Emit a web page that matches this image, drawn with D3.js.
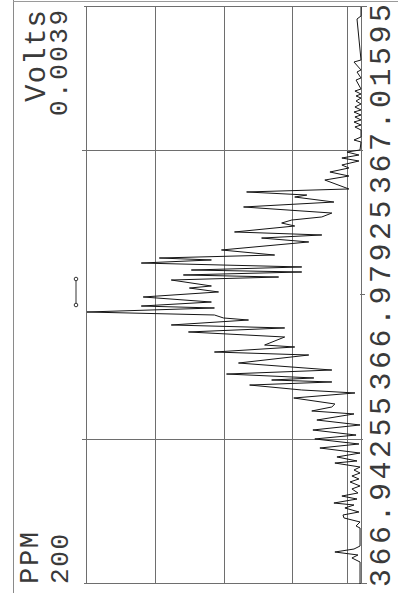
<!DOCTYPE html>
<html>
<head>
<meta charset="utf-8">
<script src="https://cdn.jsdelivr.net/npm/d3@7"></script>
<style>
html,body{margin:0;padding:0;background:#fff;}
svg{display:block;}
</style>
</head>
<body>
<svg id="chart" width="398" height="593"></svg>
<script>
// ---- data ----
const wavelengths = [
366.94255,366.94535,366.94586,366.94624,366.94662,366.94700,366.94738,366.94967,366.94993,366.95044,
366.95095,366.95133,366.95171,366.95222,366.95260,366.95285,366.95336,366.95374,366.95413,366.95464,
366.95502,366.95553,366.95591,366.95629,366.95667,366.95705,366.95743,366.95794,366.95820,366.95871,
366.95921,366.95985,366.96036,366.96100,366.96150,366.96214,366.96278,366.96341,366.96418,366.96456,
366.96507,366.96545,366.96621,366.96685,366.96723,366.96786,366.96825,366.96850,366.96876,366.96926,
366.96977,366.97066,366.97168,366.97206,366.97270,366.97295,366.97397,366.97461,366.97512,366.97550,
366.97613,366.97639,366.97677,366.97715,366.97766,366.97791,366.97842,366.97906,366.97970,366.98020,
366.98046,366.98122,366.98160,366.98186,366.98224,366.98249,366.98288,366.98338,366.98377,366.98402,
366.98440,366.98504,366.98606,366.98656,366.98695,366.98733,366.98809,366.98847,366.98885,366.98924,
366.98974,366.99051,366.99114,366.99178,366.99203,366.99242,366.99280,366.99394,366.99445,366.99496,
366.99547,366.99585,366.99636,366.99674,366.99712,366.99750,366.99776,366.99878,366.99903,366.99941,
367.00030,367.00069,367.00094,367.00132,367.00158,367.00196,367.00221,367.00259,367.00285,367.00323,
367.00361,367.00399,367.00437,367.00463,367.00488,367.00526,367.00552,367.00666,367.00692,367.00768,
367.00794,367.00895,367.00921,367.01442,367.01481,367.01595
];
const ppmValues = [
0.7,0.7,6.6,2.2,19.0,5.1,0.7,0.7,3.6,0.7,
12.4,13.1,1.5,11.7,5.1,19.7,2.9,13.9,2.2,6.6,
0.7,8.0,1.5,6.6,0.7,5.1,0.7,19.0,2.9,17.5,
0.7,29.9,1.5,33.6,3.6,35.0,0.7,32.1,5.1,35.8,
21.2,19.0,48.9,4.4,43.1,81.0,21.2,65.0,34.3,97.8,
21.2,89.1,38.0,106.6,48.2,70.1,55.5,125.5,55.5,138.0,
81.8,100.0,106.6,199.3,106.6,159.8,108.8,158.4,103.6,124.8,
108.8,138.0,59.9,129.2,43.1,123.4,43.1,159.8,108.8,146.7,
62.8,101.5,38.0,72.3,28.5,92.0,48.2,57.7,50.4,28.5,
21.2,85.4,19.7,48.2,39.4,83.2,8.8,26.3,8.8,22.6,
8.8,13.9,1.5,13.9,1.5,10.2,0.7,0,5.1,0,
0,4.4,0,5.1,0,4.4,0,5.1,0,4.4,
0,3.6,0,3.6,0,4.4,0,3.6,0,2.9,
0,5.1,0,2.9,0,0
];
const xTickValues = [366.94255, 366.97925, 367.01595];
const xTickLabels = ["366.94255", "366.97925", "367.01595"];
const xGridValues = [366.96090, 366.99760];
const yDomain = [0, 200];
const yGridValues = [50, 100, 150];
const thresholdPPM = 10;
const markerRange = [366.97804, 366.98135];
const unitTop = ["Volts", "0.0039"];
const unitLeft = ["PPM", "200"];

// ---- drawing (landscape chart rotated -90deg onto the portrait page) ----
const W = 593, H = 398;
const svg = d3.select("#chart");
const g = svg.append("g").attr("transform", `translate(0,${W}) rotate(-90)`);

const x = d3.scaleLinear().domain([xTickValues[0], xTickValues[2]]).range([9, 586]);
const y = d3.scaleLinear().domain(yDomain).range([361, 86]);

const gridColor = "#6e6e6e";
const textColor = "#3a3a3a";
const font = "'Liberation Mono', 'DejaVu Sans Mono', monospace";

// outer frame
g.append("line").attr("x1", 0).attr("x2", W).attr("y1", 13.5).attr("y2", 13.5)
  .attr("stroke", "#8a8a8a").attr("stroke-width", 1);
g.append("line").attr("x1", W - 1.5).attr("x2", W - 1.5).attr("y1", 13).attr("y2", H)
  .attr("stroke", "#9a9a9a").attr("stroke-width", 1);

// horizontal grid (value levels)
const yLines = [yDomain[1], ...yGridValues, thresholdPPM, 0];
g.selectAll("line.hgrid").data(yLines).enter().append("line")
  .attr("class", "hgrid")
  .attr("x1", x.range()[0]).attr("x2", x.range()[1])
  .attr("y1", d => Math.round(y(d)) + 0.5).attr("y2", d => Math.round(y(d)) + 0.5)
  .attr("stroke", gridColor).attr("stroke-width", 1);

// vertical grid / frame
g.selectAll("line.vframe").data([xTickValues[0], xTickValues[2]]).enter().append("line")
  .attr("class", "vframe")
  .attr("x1", d => Math.round(x(d)) + 0.5).attr("x2", d => Math.round(x(d)) + 0.5)
  .attr("y1", y(yDomain[1]) - 2).attr("y2", y(0) + 6)
  .attr("stroke", gridColor).attr("stroke-width", 1);
g.selectAll("line.vgrid").data(xGridValues).enter().append("line")
  .attr("class", "vgrid")
  .attr("x1", d => Math.round(x(d)) + 0.5).attr("x2", d => Math.round(x(d)) + 0.5)
  .attr("y1", y(yDomain[1]) - 4).attr("y2", y(0) + 2)
  .attr("stroke", gridColor).attr("stroke-width", 1);
// centre tick
g.append("line")
  .attr("x1", Math.round(x(xTickValues[1])) + 0.5).attr("x2", Math.round(x(xTickValues[1])) + 0.5)
  .attr("y1", y(0) - 1).attr("y2", y(0) + 4)
  .attr("stroke", gridColor).attr("stroke-width", 1);

// spectrum trace
const pts = wavelengths.map((w, i) => [w, ppmValues[i]]);
g.append("path").datum(pts)
  .attr("d", d3.line().x(d => x(d[0])).y(d => y(d[1])))
  .attr("fill", "none").attr("stroke", "#151515").attr("stroke-width", 1)
  .attr("stroke-linejoin", "miter");

// peak window marker
const my = y(yDomain[1]) - 10;
g.append("line").attr("x1", x(markerRange[0])).attr("x2", x(markerRange[1]))
  .attr("y1", my).attr("y2", my).attr("stroke", "#333").attr("stroke-width", 1);
g.selectAll("circle.mk").data(markerRange).enter().append("circle")
  .attr("class", "mk").attr("cx", d => x(d)).attr("cy", my).attr("r", 1.8)
  .attr("fill", "#fff").attr("stroke", "#333").attr("stroke-width", 1);

// axis labels
const anchors = ["start", "middle", "end"];
const offs = [-3, 0, 3];
g.selectAll("text.xl").data(xTickValues).enter().append("text")
  .attr("class", "xl")
  .attr("x", (d, i) => x(d) + offs[i]).attr("y", 390)
  .attr("text-anchor", (d, i) => anchors[i])
  .attr("font-family", font).attr("font-size", 30).attr("fill", textColor)
  .attr("textLength", 190).attr("lengthAdjust", "spacing")
  .text((d, i) => xTickLabels[i]);

// unit labels
const unitText = (txt, xPos, yPos, size, len, anchor) =>
  g.append("text").attr("x", xPos).attr("y", yPos).attr("text-anchor", anchor)
    .attr("font-family", font).attr("font-size", size).attr("fill", textColor)
    .attr("textLength", len).attr("lengthAdjust", "spacing").text(txt);
unitText(unitTop[0], 583, 45, 29, 92, "end");
unitText(unitTop[1], 583, 67, 26, 106, "end");
unitText(unitLeft[0], 9, 38, 27, 52, "start");
unitText(unitLeft[1], 9, 68, 26, 50, "start");
</script>
</body>
</html>
